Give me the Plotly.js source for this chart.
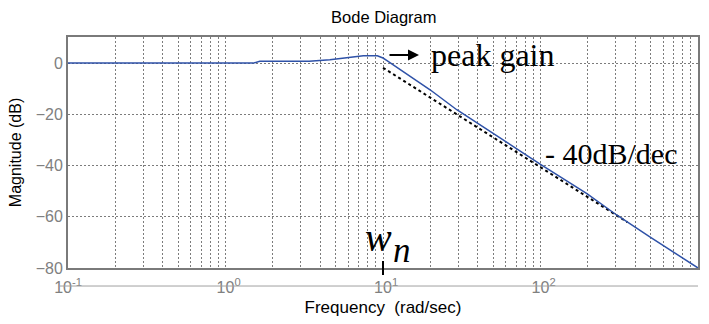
<!DOCTYPE html>
<html>
<head>
<meta charset="utf-8">
<script src="https://cdn.plot.ly/plotly-3.0.1.min.js"></script>
<style>html,body{margin:0;padding:0;background:#fff;}#chart{width:709px;height:324px;}</style>
</head>
<body>
<div id="chart"></div>
<script>
// Magnitude response
const freq = [0.1, 0.5, 1.5, 1.65, 3.4, 4.6, 6.2, 7.5, 9.2, 10, 10.6, 13.5, 19.9, 29.4, 41.4, 58.2, 82, 100, 197, 306, 500, 1000];
const magDb = [0, 0, 0, 0.7, 0.7, 1.3, 2.3, 2.9, 2.9, 2.0, 1.0, -3.3, -10.4, -18.2, -24.2, -30.3, -36.2, -39.5, -51.0, -59.4, -68.0, -80.0];
// -40 dB/dec asymptote (dotted), as drawn in the picture
const asymFreq = [10, 356];
const asymDb = [-1.8, -62.1];
const wn = [10];
// axis ticks
const xTickVals = [];
const xTickText = [];
const decades = [-1, 0, 1, 2, 3];
decades.forEach(function (d) {
  for (let m = 1; m <= 9; m++) {
    if (d === 3 && m > 1) break;
    xTickVals.push(m * Math.pow(10, d));
    let lab = '';
    if (m === 1) {
      lab = (d >= 0 ? '<span style="color:rgba(0,0,0,0)"><sup>' + d + '</sup></span>' : '') + '10<sup>' + d + '</sup>';
    }
    xTickText.push(lab);
  }
});
const yTickVals = [-80, -60, -40, -20, 0];

const gridColor = '#7c7c7c';
const tickFont = {family: 'Liberation Sans, Arial', size: 16, color: '#808080'};
const serif = 'Liberation Serif, Times New Roman';

const traces = [
  {x: asymFreq, y: asymDb, type: 'scatter', mode: 'lines',
   line: {color: '#000000', width: 2, dash: 'dot'}, hoverinfo: 'skip'},
  {x: freq, y: magDb, type: 'scatter', mode: 'lines',
   line: {color: '#2f52a8', width: 1.5}, hoverinfo: 'skip'}
];

const wnPaper = (Math.log10(wn[0]) + 1) / 4;

const layout = {
  width: 709, height: 324,
  margin: {l: 68, r: 11, t: 37, b: 56},
  paper_bgcolor: '#ffffff', plot_bgcolor: '#ffffff',
  showlegend: false,
  font: {family: 'Liberation Sans, Arial', color: '#000'},
  title: {text: 'Bode Diagram', font: {size: 16.5, color: '#000'}, x: 0.5413, xanchor: 'center', y: 1 - 17 / 324, yanchor: 'middle'},
  xaxis: {
    type: 'log', range: [-1, 3],
    tickmode: 'array', tickvals: xTickVals, ticktext: xTickText,
    ticks: '', tickfont: tickFont, ticklabelstandoff: 4,
    showgrid: true, gridcolor: gridColor, griddash: '2px,2px', gridwidth: 1,
    showline: true, linecolor: '#7a7a7a', linewidth: 2, mirror: true,
    zeroline: false,
    title: {text: 'Frequency\u00a0\u00a0(rad/sec)', font: {size: 17, color: '#000'}, standoff: 6}
  },
  yaxis: {
    range: [-80, 10.2],
    tickmode: 'array', tickvals: yTickVals,
    ticks: '', tickfont: tickFont, ticklabelstandoff: 0,
    showgrid: true, gridcolor: gridColor, griddash: '2px,2px', gridwidth: 1,
    showline: true, linecolor: '#7a7a7a', linewidth: 2, mirror: true,
    zeroline: false,
    title: {text: 'Magnitude (dB)', font: {size: 16, color: '#000'}, standoff: 10}
  },
  shapes: [
    {type: 'line', xref: 'paper', yref: 'paper', x0: -0.013, x1: 1, y0: -0.078, y1: -0.078,
     line: {color: '#a0a0a0', width: 1}},
    {type: 'line', xref: 'paper', yref: 'paper', x0: wnPaper, x1: wnPaper, y0: (268 - 261) / 231, y1: (268 - 275) / 231,
     line: {color: '#000', width: 2}}
  ],
  annotations: [
    {xref: 'paper', yref: 'paper', x: (419 - 68) / 630, y: (268 - 55) / 231,
     text: '', showarrow: true, ax: -31, ay: 0, axref: 'pixel', ayref: 'pixel',
     arrowhead: 2, arrowsize: 1.1, arrowwidth: 2, arrowcolor: '#000'},
    {xref: 'paper', yref: 'paper', x: (429 - 68) / 630, y: (268 - 55) / 231, xanchor: 'left', yanchor: 'middle',
     text: 'peak gain', showarrow: false, font: {family: serif, size: 32, color: '#000'}},
    {xref: 'paper', yref: 'paper', x: (543 - 68) / 630, y: (268 - 153) / 231, xanchor: 'left', yanchor: 'middle',
     text: '- 40dB/dec', showarrow: false, font: {family: serif, size: 30, color: '#000'}},
    {xref: 'paper', yref: 'paper', x: (363 - 68) / 630, y: (268 - 237) / 231, xanchor: 'left', yanchor: 'middle',
     text: '<i>w</i>', showarrow: false, font: {family: serif, size: 40, color: '#000'}},
    {xref: 'paper', yref: 'paper', x: (391 - 68) / 630, y: (268 - 250) / 231, xanchor: 'left', yanchor: 'middle',
     text: '<i>n</i>', showarrow: false, font: {family: serif, size: 35, color: '#000'}}
  ]
};

Plotly.newPlot('chart', traces, layout, {displayModeBar: false, staticPlot: true});
</script>
</body>
</html>
